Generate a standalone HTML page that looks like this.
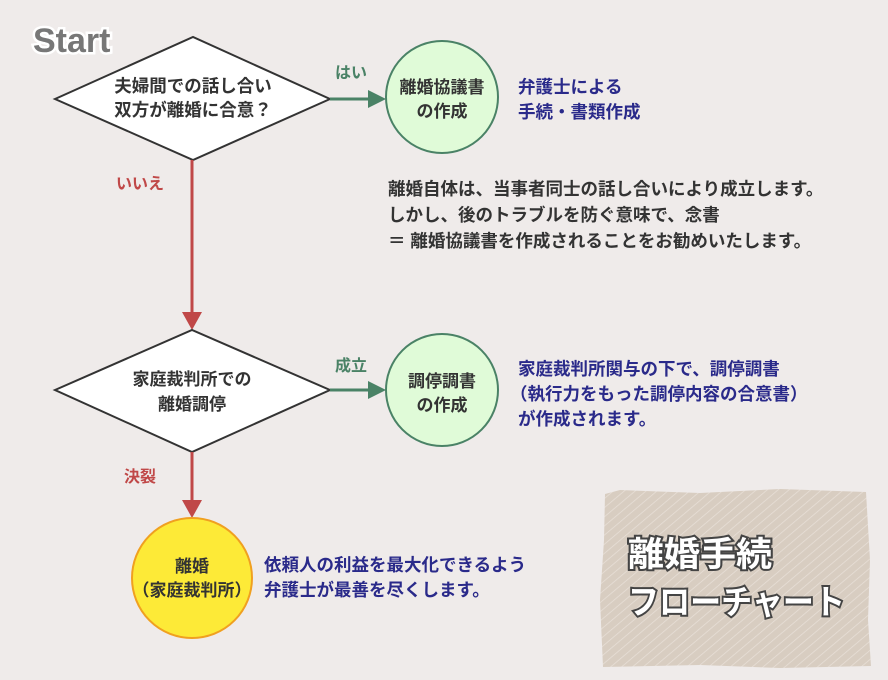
<!DOCTYPE html>
<html><head><meta charset="utf-8"><style>
body{margin:0;background:#efebea;}
svg{display:block}
text{font-family:"Liberation Sans","Noto Sans CJK JP",sans-serif;font-weight:600;}
</style></head><body>
<svg width="888" height="680" viewBox="0 0 888 680">
<defs>
<pattern id="hatch" width="7" height="7" patternUnits="userSpaceOnUse" patternTransform="rotate(-40)">
<rect width="7" height="7" fill="#d8cdc1"/>
<line x1="0" y1="0" x2="7" y2="0" stroke="#e8e0d8" stroke-width="1.5"/>
</pattern>
</defs>
<rect width="888" height="680" fill="#efebea"/>
<text x="33" y="52" font-size="34" font-weight="bold" font-family="Liberation Serif,serif" fill="#777" stroke="#fff" stroke-width="5" paint-order="stroke">Start</text>
<polygon points="55,99 193,37 330,99 193,160" fill="#fff" stroke="#333" stroke-width="2"/>
<text x="193" y="92" font-size="17.5" text-anchor="middle" fill="#333">夫婦間での話し合い</text>
<text x="193" y="116" font-size="17.5" text-anchor="middle" fill="#333">双方が離婚に合意？</text>
<line x1="330" y1="99" x2="370" y2="99" stroke="#4a8266" stroke-width="3"/>
<polygon points="368,90 386,99 368,108" fill="#4a8266"/>
<text x="351" y="78" font-size="16" text-anchor="middle" fill="#4a8266">はい</text>
<circle cx="442" cy="97" r="56" fill="#e0fbd8" stroke="#4a8266" stroke-width="2"/>
<text x="442" y="93" font-size="17" text-anchor="middle" fill="#333">離婚協議書</text>
<text x="442" y="117" font-size="17" text-anchor="middle" fill="#333">の作成</text>
<text x="518" y="93" font-size="17.5" fill="#2a2a8a">弁護士による</text>
<text x="518" y="118" font-size="17.5" fill="#2a2a8a">手続・書類作成</text>
<text x="388" y="195" font-size="17.5" fill="#333">離婚自体は、当事者同士の話し合いにより成立します。</text>
<text x="388" y="221" font-size="17.5" fill="#333">しかし、後のトラブルを防ぐ意味で、念書</text>
<text x="388" y="247" font-size="17.5" fill="#333">＝ 離婚協議書を作成されることをお勧めいたします。</text>
<line x1="192" y1="160" x2="192" y2="314" stroke="#c04848" stroke-width="3"/>
<polygon points="182,312 192,330 202,312" fill="#c04848"/>
<text x="116" y="189" font-size="16" fill="#c04848">いいえ</text>
<polygon points="55,390 192,330 330,390 192,452" fill="#fff" stroke="#333" stroke-width="2"/>
<text x="192" y="385" font-size="17" text-anchor="middle" fill="#333">家庭裁判所での</text>
<text x="192" y="410" font-size="17" text-anchor="middle" fill="#333">離婚調停</text>
<line x1="330" y1="390" x2="370" y2="390" stroke="#4a8266" stroke-width="3"/>
<polygon points="368,381 386,390 368,399" fill="#4a8266"/>
<text x="351" y="371" font-size="16" text-anchor="middle" fill="#4a8266">成立</text>
<circle cx="442" cy="390" r="56" fill="#e0fbd8" stroke="#4a8266" stroke-width="2"/>
<text x="442" y="387" font-size="17" text-anchor="middle" fill="#333">調停調書</text>
<text x="442" y="411" font-size="17" text-anchor="middle" fill="#333">の作成</text>
<text x="518" y="375" font-size="17.5" fill="#2a2a8a">家庭裁判所関与の下で、調停調書</text>
<text x="510" y="400" font-size="17.5" fill="#2a2a8a">（執行力をもった調停内容の合意書）</text>
<text x="518" y="425" font-size="17.5" fill="#2a2a8a">が作成されます。</text>
<line x1="192" y1="452" x2="192" y2="502" stroke="#c04848" stroke-width="3"/>
<polygon points="182,500 192,518 202,500" fill="#c04848"/>
<text x="124" y="482" font-size="16" fill="#c04848">決裂</text>
<circle cx="192" cy="578" r="60" fill="#fdea37" stroke="#f0a020" stroke-width="2"/>
<text x="192" y="572" font-size="17" text-anchor="middle" fill="#333">離婚</text>
<text x="192" y="596" font-size="17" text-anchor="middle" fill="#333">（家庭裁判所）</text>
<text x="264" y="571" font-size="17.5" fill="#2a2a8a">依頼人の利益を最大化できるよう</text>
<text x="264" y="596" font-size="17.5" fill="#2a2a8a">弁護士が最善を尽くします。</text>
<polygon points="605,494 620,490 700,493 780,489 866,492 870,560 868,620 871,666 780,668 700,665 603,667 600,600 604,540" fill="url(#hatch)"/>
<text x="628" y="566" font-size="34" font-weight="bold" fill="#fff" stroke="#444" stroke-width="4" paint-order="stroke" textLength="144" lengthAdjust="spacingAndGlyphs">離婚手続</text>
<text x="628" y="614" font-size="34" font-weight="bold" fill="#fff" stroke="#444" stroke-width="4" paint-order="stroke" textLength="217" lengthAdjust="spacingAndGlyphs">フローチャート</text>
</svg>
</body></html>
